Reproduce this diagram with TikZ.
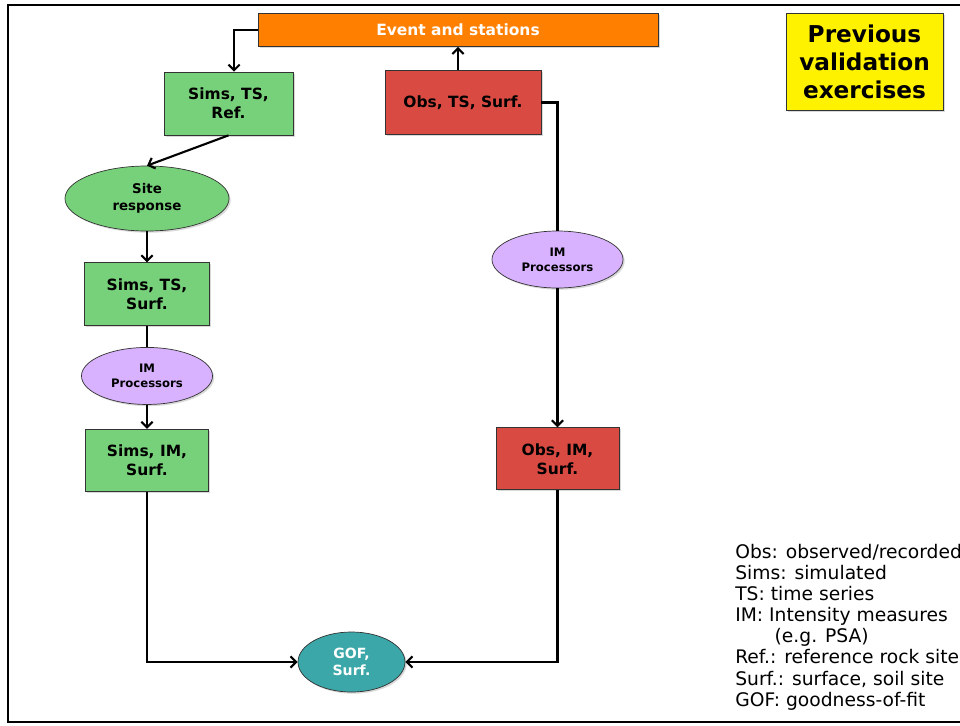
\documentclass[tikz,border=0pt]{standalone}
\usepackage{fontspec}
\setmainfont{DejaVu Sans}
\usetikzlibrary{positioning, shapes.geometric, arrows.meta, shadows}

\definecolor{simgreen}{HTML}{77D17A}
\definecolor{obsred}{HTML}{D94A43}
\definecolor{eventorange}{HTML}{FF7F00}
\definecolor{improc}{HTML}{D9B2FF}
\definecolor{gofteal}{HTML}{3BA7A8}

\begin{document}
\begin{tikzpicture}[
        % 1 unit = 1 pixel of the 960x725 slide
        x=0.025cm, y=-0.025cm,
        every node/.style={font=\bfseries\fontsize{11}{13.5}\selectfont, align=center},
        box/.style={draw=black!80, line width=0.5pt, inner sep=0pt,
                    drop shadow={shadow xshift=1.2pt, shadow yshift=-1.2pt, opacity=0.3}},
        simbox/.style={box, fill=simgreen},
        obsbox/.style={box, fill=obsred},
        event/.style={box, fill=eventorange, text=white,
                      minimum width=10cm, minimum height=0.825cm},
        prevbox/.style={box, fill=yellow, minimum width=3.925cm, minimum height=2.425cm,
                        font=\bfseries\fontsize{16.5}{20}\selectfont},
        simell/.style={box, ellipse, fill=simgreen,
                       font=\bfseries\fontsize{9.5}{12}\selectfont},
        imell/.style={box, ellipse, fill=improc,
                      minimum width=3.275cm, minimum height=1.425cm,
                      font=\bfseries\fontsize{8.3}{10.5}\selectfont},
        gofell/.style={box, ellipse, fill=gofteal, text=white,
                       minimum width=2.675cm, minimum height=1.5cm,
                       font=\bfseries\fontsize{10}{12.5}\selectfont},
        legend/.style={inner sep=0pt, align=left, font=\fontsize{13.3}{15}\selectfont},
        arrow/.style={-{Straight Barb[length=4pt,width=8pt]}, line width=1.5pt},
        link/.style={line width=1.5pt},
        frame/.style={line width=1.5pt}
    ]

    \useasboundingbox (0,0) rectangle (960,725);
    \draw[frame] (960,5) -- (8,5) -- (8,722) -- (960,722);

    % --- Top row ---
    \node[event] (event) at (458,30) {Event and stations};
    \node[simbox, minimum width=3.225cm, minimum height=1.575cm] (simsref) at (228.5,103.5) {Sims, TS,\\Ref.};
    \node[obsbox, minimum width=3.9cm, minimum height=1.6cm] (obsts) at (463,102.5) {Obs, TS, Surf.};
    \node[prevbox] (prev) at (864.5,61.5) {Previous\\validation\\exercises};

    % --- Simulation branch ---
    \node[simell, minimum width=4.1cm, minimum height=1.625cm] (site) at (147,198.5) {Site\\response};
    \node[simbox, below=0.775cm of site, minimum width=3.125cm, minimum height=1.575cm] (simsts) {Sims, TS,\\Surf.};
    \node[imell, below=0.525cm of simsts] (imleft) {IM\\Processors};
    \node[simbox, below=0.6cm of imleft, minimum width=3.075cm, minimum height=1.55cm] (simsim) {Sims, IM,\\Surf.};

    % --- Observation branch ---
    \node[imell] (imright) at (557.5,259.5) {IM\\Processors};
    \node[obsbox, below=3.475cm of imright, minimum width=3.075cm, minimum height=1.55cm] (obsim) {Obs, IM,\\Surf.};

    % --- Comparison ---
    \node[gofell] (gof) at (351.5,662) {GOF,\\Surf.};

    % --- Key ---
    \node[legend, anchor=north west] (key) at (735,544) {Obs: observed/recorded\\Sims: simulated\\TS: time series\\IM: Intensity measures\\\hspace*{28pt}(e.g. PSA)\\Ref.: reference rock site\\Surf.: surface, soil site\\GOF: goodness-of-fit};

    % --- Arrows ---
    \draw[arrow] (event.west) -| ([xshift=0.14cm]simsref.north);
    \draw[arrow] ([xshift=-0.125cm]obsts.north) -- ([xshift=-0.125cm]obsts.north |- event.south);

    \draw[arrow] (simsref.south) -- (site.north);
    \draw[arrow] (site.south) -- (simsts.north);
    \draw[link] (simsts.south) -- (imleft.north);
    \draw[arrow] (imleft.south) -- (simsim.north);
    \draw[arrow] (simsim.south) |- (gof.west);

    \draw[link] (obsts.east) -| (imright.north);
    \draw[arrow] (imright.south) -- (obsim.north);
    \draw[arrow] (obsim.south) |- (gof.east);

\end{tikzpicture}
\end{document}
